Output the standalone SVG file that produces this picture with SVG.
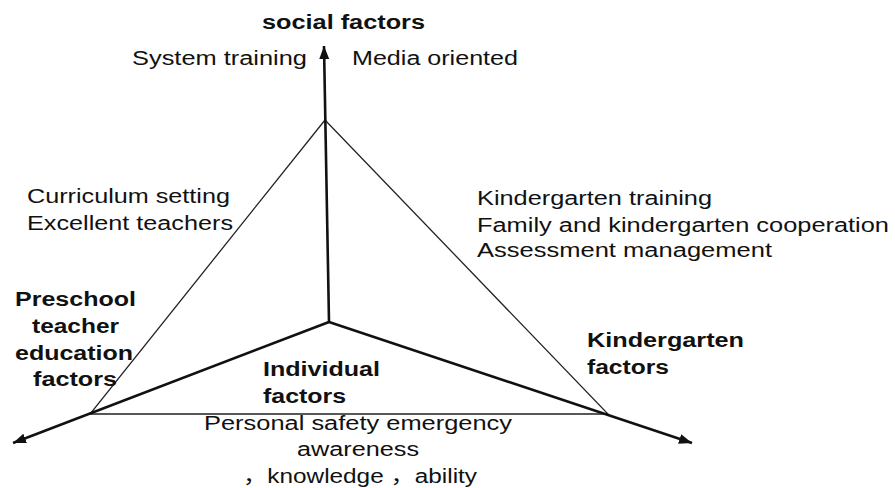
<svg xmlns="http://www.w3.org/2000/svg" width="895" height="488" viewBox="0 0 895 488">
<style>
text{font-family:"Liberation Sans",Arial,"Noto Sans CJK SC",sans-serif;font-size:20px;fill:#111;}
.b{font-weight:bold;}
.axis{stroke:#111;stroke-width:2.6;fill:none;}
.thin{stroke:#222;stroke-width:1.3;fill:none;}
</style>
<defs>
<marker id="ah" markerUnits="userSpaceOnUse" markerWidth="14" markerHeight="12" refX="13" refY="5" orient="auto">
<path d="M0,0 L13,5 L0,10 z" fill="#111"/>
</marker>
</defs>
<rect width="895" height="488" fill="#fff"/>
<g id="connectors">
<polygon class="thin" points="325,120 90,414 608,414"/>
<line class="axis" x1="329" y1="322" x2="324" y2="46" marker-end="url(#ah)"/>
<line class="axis" x1="329" y1="322" x2="13" y2="443" marker-end="url(#ah)"/>
<line class="axis" x1="329" y1="322" x2="692" y2="443" marker-end="url(#ah)"/>
</g>
<g id="social">
<text class="b" x="262" y="29" textLength="163" lengthAdjust="spacingAndGlyphs">social factors</text>
<text x="132" y="65" textLength="175" lengthAdjust="spacingAndGlyphs">System training</text>
<text x="352" y="65" textLength="166" lengthAdjust="spacingAndGlyphs">Media oriented</text>
</g>
<g id="preschool">
<text x="27" y="203" textLength="203" lengthAdjust="spacingAndGlyphs">Curriculum setting</text>
<text x="27" y="230" textLength="206" lengthAdjust="spacingAndGlyphs">Excellent teachers</text>
<text class="b" x="15" y="306" textLength="121" lengthAdjust="spacingAndGlyphs">Preschool</text>
<text class="b" x="32" y="333" textLength="87" lengthAdjust="spacingAndGlyphs">teacher</text>
<text class="b" x="15" y="360" textLength="118" lengthAdjust="spacingAndGlyphs">education</text>
<text class="b" x="33" y="386" textLength="84" lengthAdjust="spacingAndGlyphs">factors</text>
</g>
<g id="kindergarten">
<text x="477" y="205" textLength="235" lengthAdjust="spacingAndGlyphs">Kindergarten training</text>
<text x="477" y="232" textLength="412" lengthAdjust="spacingAndGlyphs">Family and kindergarten cooperation</text>
<text x="477" y="257" textLength="295" lengthAdjust="spacingAndGlyphs">Assessment management</text>
<text class="b" x="587" y="347" textLength="157" lengthAdjust="spacingAndGlyphs">Kindergarten</text>
<text class="b" x="587" y="374" textLength="82" lengthAdjust="spacingAndGlyphs">factors</text>
</g>
<g id="individual">
<text class="b" x="263" y="376" textLength="117" lengthAdjust="spacingAndGlyphs">Individual</text>
<text class="b" x="263" y="403" textLength="83" lengthAdjust="spacingAndGlyphs">factors</text>
<text x="204" y="430" textLength="308" lengthAdjust="spacingAndGlyphs">Personal safety emergency</text>
<text x="297" y="456" textLength="122" lengthAdjust="spacingAndGlyphs">awareness</text>
<text x="243" y="483" textLength="234" lengthAdjust="spacingAndGlyphs">，knowledge ，ability</text>
</g>
</svg>
